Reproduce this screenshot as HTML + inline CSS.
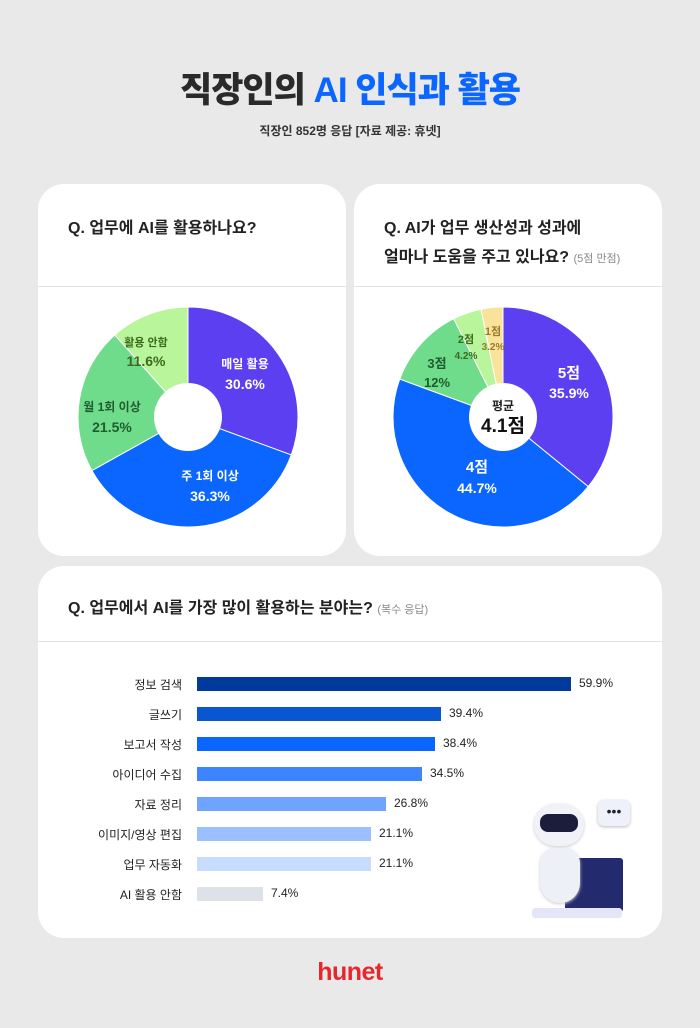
<!DOCTYPE html>
<html><head><meta charset="utf-8"><style>
body{margin:0;width:700px;height:1028px;background:#e9e9e9;font-family:"Liberation Sans","Noto Sans CJK KR",sans-serif;position:relative;overflow:hidden;color:#222}
.card{position:absolute;background:#fff;border-radius:26px}
.hd{position:absolute;left:0;right:0;border-bottom:1px solid #e3e3e3}
.q{position:absolute;font-size:16px;font-weight:bold;color:#222;line-height:29px}
.q small{font-size:11px;color:#888;font-weight:normal}
.lab{position:absolute;font-size:12px;text-align:right;width:120px;left:62px;color:#222}
.bar{position:absolute;left:197px;height:14px}
.val{position:absolute;font-size:12px;color:#222}
</style></head><body>
<div style="position:absolute;top:62px;width:700px;text-align:center;font-size:35px;font-weight:900;letter-spacing:-1px"><span style="color:#2a2a2a">직장인의</span> <span style="color:#0a66ff">AI 인식과 활용</span></div>
<div style="position:absolute;top:122px;width:700px;text-align:center;font-size:12px;font-weight:bold;color:#333">직장인 852명 응답 [자료 제공: 휴넷]</div>

<div class="card" style="left:38px;top:184px;width:308px;height:372px"><div class="hd" style="top:0;height:102px"></div><div class="q" style="left:30px;top:30px">Q. 업무에 AI를 활용하나요?</div></div>
<div class="card" style="left:354px;top:184px;width:308px;height:372px"><div class="hd" style="top:0;height:102px"></div><div class="q" style="left:30px;top:30px">Q. AI가 업무 생산성과 성과에<br>얼마나 도움을 주고 있나요? <small>(5점 만점)</small></div></div>
<div class="card" style="left:38px;top:566px;width:624px;height:372px"><div class="hd" style="top:0;height:75px"></div><div class="q" style="left:30px;top:28px">Q. 업무에서 AI를 가장 많이 활용하는 분야는? <small>(복수 응답)</small></div></div>

<svg id="s" width="700" height="1028" style="position:absolute;left:0;top:0"></svg>

<div id="bars"></div>

<div style="position:absolute;left:520px;top:800px;width:110px;height:120px">
<div style="position:absolute;left:78px;top:0;width:32px;height:26px;background:#eef0fa;border-radius:6px;box-shadow:0 1px 3px #bbb;font-size:14px;line-height:22px;text-align:center;color:#223">•••</div>
<div style="position:absolute;left:45px;top:58px;width:58px;height:54px;background:#232a6e;border-radius:3px"></div>
<div style="position:absolute;left:12px;top:108px;width:90px;height:10px;background:#e4e6f7;border-radius:3px"></div>
<div style="position:absolute;left:14px;top:4px;width:50px;height:42px;background:#f1f2f8;border-radius:22px;box-shadow:0 1px 3px #ccc"></div>
<div style="position:absolute;left:20px;top:14px;width:38px;height:18px;background:#1c1d3a;border-radius:8px"></div>
<div style="position:absolute;left:20px;top:48px;width:40px;height:55px;background:#eef0f8;border-radius:20px 20px 26px 26px;box-shadow:0 1px 3px #ccc"></div>
</div>

<div style="position:absolute;top:958px;width:700px;text-align:center;font-size:25px;font-weight:bold;color:#e8262d;letter-spacing:-0.5px">hunet</div>

<script>
const s=document.getElementById('s');let h='';
function pie(cx,cy,R,r,data){let a=0;data.forEach(d=>{const a0=a/100*2*Math.PI,a1=(a+d[0])/100*2*Math.PI;a+=d[0];
const p=(t,rr)=>[cx+rr*Math.sin(t),cy-rr*Math.cos(t)];const L=d[0]>50?1:0;
const[x0,y0]=p(a0,R),[x1,y1]=p(a1,R);
h+=`<path d="M${cx} ${cy}L${x0} ${y0}A${R} ${R} 0 ${L} 1 ${x1} ${y1}Z" fill="${d[1]}" stroke="#fff" stroke-width="1"/>`;});
h+=`<circle cx="${cx}" cy="${cy}" r="${r}" fill="#fff"/>`;}
pie(188,417,110,34,[[30.6,'#5b3ff0'],[36.3,'#0a66ff'],[21.5,'#6fdc8c'],[11.6,'#b9f59b']]);
pie(503,417,110,34,[[35.9,'#5b3ff0'],[44.7,'#0a66ff'],[12,'#6fdc8c'],[4.2,'#b9f59b'],[3.2,'#f9e39a']]);
const F='font-family="Liberation Sans,Noto Sans CJK KR,sans-serif" font-weight="bold" text-anchor="middle"';
function t(x,y,sz,c,s){h+=`<text x="${x}" y="${y}" font-size="${sz}" fill="${c}" ${F}>${s}</text>`;}
t(245,368,12,'#fff','매일 활용');t(245,389,14,'#fff','30.6%');
t(210,480,12,'#fff','주 1회 이상');t(210,501,14,'#fff','36.3%');
t(112,411,12,'#1f5c2e','월 1회 이상');t(112,432,14,'#1f5c2e','21.5%');
t(146,346,11,'#3c6a1c','활용 안함');t(146,366,14,'#3c6a1c','11.6%');
t(569,378,15,'#fff','5점');t(569,398,14,'#fff','35.9%');
t(477,472,15,'#fff','4점');t(477,493,14,'#fff','44.7%');
t(437,368,13,'#1f5c2e','3점');t(437,387,13,'#1f5c2e','12%');
t(466,343,11,'#3c6a1c','2점');t(466,359,10,'#3c6a1c','4.2%');
t(493,335,11,'#9a7a2a','1점');t(493,350,10,'#9a7a2a','3.2%');
t(503,410,12,'#222','평균');t(503,432,19,'#111','4.1점');
s.innerHTML=h;
const B=[['정보 검색',59.9,'#003a9c',374],['글쓰기',39.4,'#0a55d0',244],['보고서 작성',38.4,'#0a66ff',238],['아이디어 수집',34.5,'#3d85ff',225],['자료 정리',26.8,'#6ea4ff',189],['이미지/영상 편집',21.1,'#9cc0ff',174],['업무 자동화',21.1,'#c8dcff',174],['AI 활용 안함',7.4,'#dde1e8',66]];
let b='';B.forEach((d,i)=>{const y=684+i*30,w=d[3];
b+=`<div class="lab" style="top:${y-8}px">${d[0]}</div><div class="bar" style="top:${y-7}px;width:${w}px;background:${d[2]}"></div><div class="val" style="left:${197+w+8}px;top:${y-8}px">${d[1]}%</div>`;});
document.getElementById('bars').innerHTML=b;
</script>
</body></html>
